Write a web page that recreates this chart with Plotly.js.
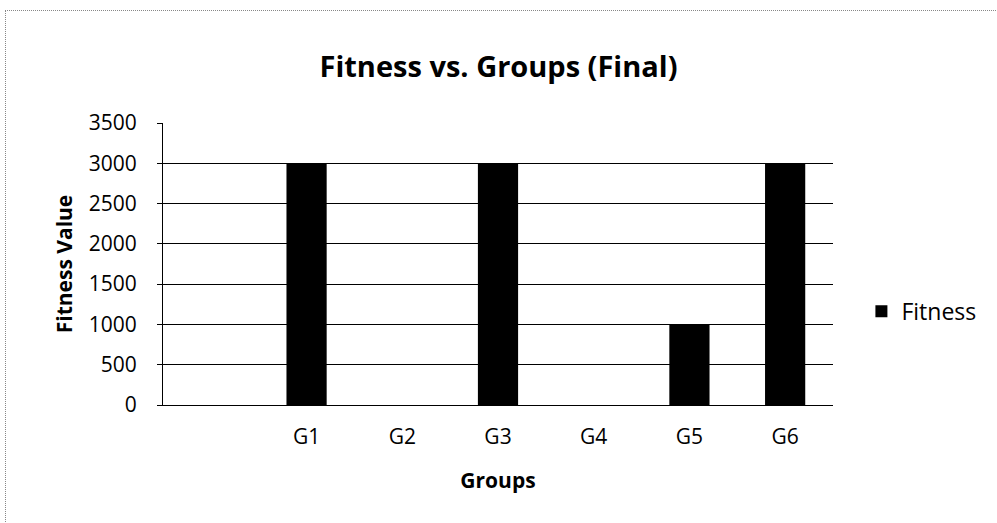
<!DOCTYPE html>
<html>
<head>
<meta charset="utf-8">
<script src="https://cdn.plot.ly/plotly-3.0.1.min.js"></script>
<style>
  html, body { margin: 0; padding: 0; background: #fff; }
  #frame { position: absolute; left: 5px; top: 10px; width: 992px; height: 513px;
           border-top: 1px dotted #888; border-left: 1px dotted #888; }
  #chart { position: absolute; left: 0; top: 0; width: 997px; height: 523px; }
</style>
</head>
<body>
<div id="frame"></div>
<div id="chart"></div>
<script>
const categories = [" ", "G1", "G2", "G3", "G4", "G5", "G6"];
const fitness = [null, 3000, 0, 3000, 0, 1000, 3000];
const yTicks = [0, 500, 1000, 1500, 2000, 2500, 3000, 3500];
const seriesName = "Fitness";

const font = "'Open Sans', sans-serif";

Plotly.newPlot("chart", [{
  type: "bar",
  x: categories,
  y: fitness,
  name: seriesName,
  marker: { color: "#000000" },
  showlegend: true
}], {
  width: 997, height: 523,
  margin: { l: 163, r: 164, t: 123, b: 118, autoexpand: false },
  paper_bgcolor: "rgba(0,0,0,0)",
  plot_bgcolor: "rgba(0,0,0,0)",
  bargap: 0.58,
  title: { text: "<b>Fitness vs. Groups (Final)</b>", font: { family: font, size: 29, color: "#000" },
           x: 0.5, xanchor: "center", y: 0.872, yanchor: "middle" },
  xaxis: {
    type: "category",
    automargin: false,
    showline: true, linecolor: "#000", linewidth: 1,
    ticks: "", showgrid: false,
    ticklabelstandoff: 13,
    tickfont: { family: font, size: 21, color: "#000" },
    title: { text: "<b>Groups</b>", font: { family: font, size: 21, color: "#000" }, standoff: 24 }
  },
  yaxis: {
    automargin: false,
    range: [0, 3500],
    tickvals: yTicks,
    showline: true, linecolor: "#000", linewidth: 1,
    ticks: "outside", ticklen: 5, tickcolor: "#000",
    ticklabelstandoff: 16,
    showgrid: true, gridcolor: "#000", gridwidth: 1,
    zeroline: false,
    tickfont: { family: font, size: 21, color: "#000" },
    title: { text: "<b>Fitness Value</b>", font: { family: font, size: 21, color: "#000" }, standoff: 10 }
  },
  legend: {
    xref: "container", yref: "container",
    x: 0.864, xanchor: "left", y: 0.405, yanchor: "middle",
    font: { family: font, size: 23, color: "#000" },
    bgcolor: "rgba(0,0,0,0)", itemwidth: 30
  }
}, { displayModeBar: false, staticPlot: true });
</script>
</body>
</html>
